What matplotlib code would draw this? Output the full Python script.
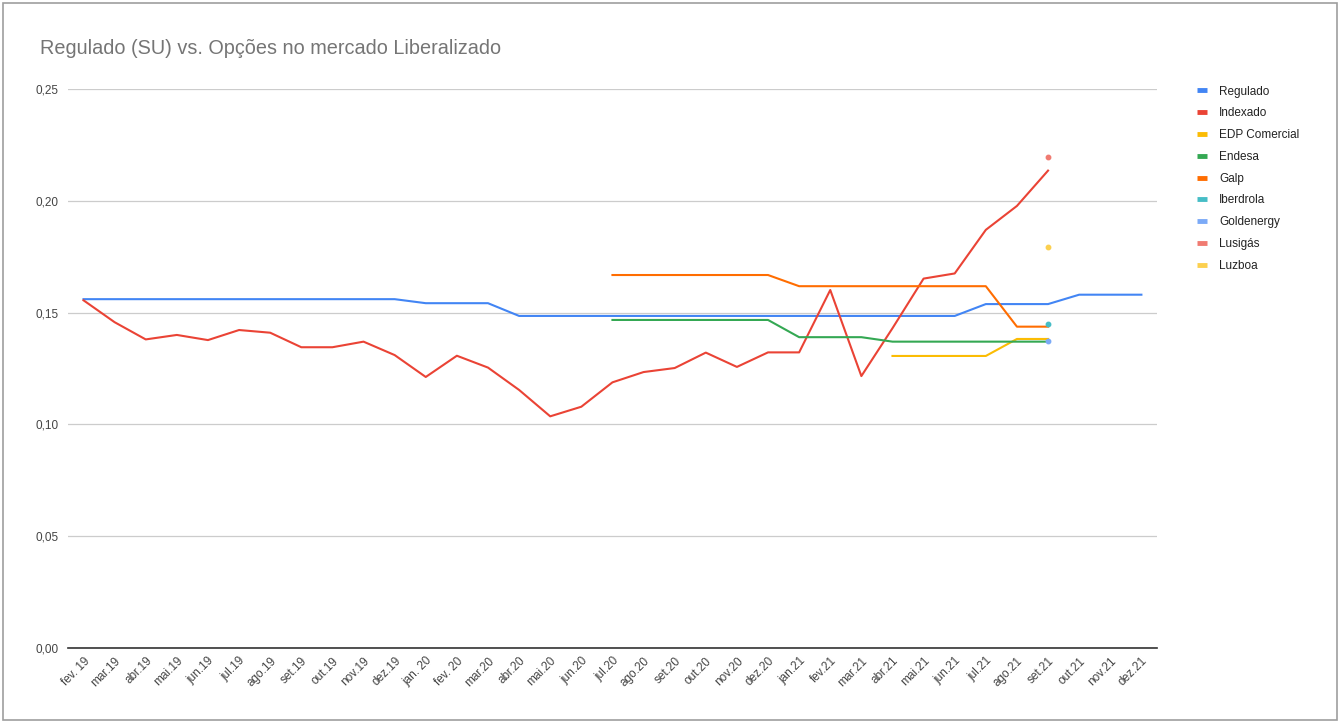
import numpy as np
import matplotlib.pyplot as plt
from matplotlib.lines import Line2D
from matplotlib.patches import Rectangle

plt.rcParams['font.family'] = ['Liberation Sans', 'DejaVu Sans']

months = ["fev. 19", "mar.19", "abr.19", "mai.19", "jun.19", "jul.19", "ago.19",
          "set.19", "out.19", "nov.19", "dez.19", "jan. 20", "fev. 20", "mar.20",
          "abr.20", "mai.20", "jun.20", "jul.20", "ago.20", "set.20", "out.20",
          "nov.20", "dez.20", "jan.21", "fev.21", "mar.21", "abr.21", "mai.21",
          "jun.21", "jul.21", "ago.21", "set.21", "out.21", "nov.21", "dez.21"]

nan = np.nan

regulado = [0.156] * 11 + [0.1542] * 3 + [0.1485] * 15 + [0.1538] * 3 + [0.158] * 3

indexado = [0.1555, 0.1457, 0.138, 0.140, 0.1377, 0.1422, 0.141, 0.1345, 0.1345,
            0.137, 0.131, 0.1212, 0.1307, 0.1254, 0.1154, 0.1036, 0.1079, 0.1188,
            0.1234, 0.1252, 0.1321, 0.1257, 0.1322, 0.1322, 0.1601, 0.1216, 0.143,
            0.1652, 0.1675, 0.187, 0.1977, 0.2135, nan, nan, nan]

edp_comercial = [nan] * 26 + [0.1306] * 4 + [0.1382] * 2 + [nan] * 3
endesa = [nan] * 17 + [0.1467] * 6 + [0.139] * 3 + [0.137] * 6 + [nan] * 3
galp = [nan] * 17 + [0.1668] * 6 + [0.1618] * 7 + [0.1437] * 2 + [nan] * 3
iberdrola = [nan] * 31 + [0.1449] + [nan] * 3
goldenergy = [nan] * 31 + [0.1374] + [nan] * 3
lusigas = [nan] * 31 + [0.2197] + [nan] * 3
luzboa = [nan] * 31 + [0.1795] + [nan] * 3

series = [
    ("Regulado", regulado, "#4285f4"),
    ("Indexado", indexado, "#ea4335"),
    ("EDP Comercial", edp_comercial, "#fbbc04"),
    ("Endesa", endesa, "#34a853"),
    ("Galp", galp, "#ff6d01"),
    ("Iberdrola", iberdrola, "#46bdc6"),
    ("Goldenergy", goldenergy, "#7baaf7"),
    ("Lusigás", lusigas, "#f07b72"),
    ("Luzboa", luzboa, "#fcd04f"),
]

fig = plt.figure(figsize=(13.4, 7.27), dpi=100)
ax = fig.add_axes([0.0507, 0.1087, 0.8127, 0.7689])

# chart frame
fig.patches.append(Rectangle((0.0025, 0.009), 0.995, 0.987, transform=fig.transFigure,
                             fill=False, edgecolor="#9e9e9e", linewidth=1.2))

x = np.arange(len(months))
handles = []
for name, vals, col in series:
    vals = np.array(vals, dtype=float)
    if np.count_nonzero(~np.isnan(vals)) == 1:
        ax.plot(x, vals, 'o', color=col, markersize=3.2, zorder=4)
    else:
        ax.plot(x, vals, color=col, linewidth=1.5, zorder=3)
    handles.append(Line2D([], [], color=col, linewidth=3.5, solid_capstyle='butt'))

ax.set_xlim(-0.5, len(months) - 0.5)
ax.set_ylim(0, 0.25)
ax.set_yticks([0, 0.05, 0.10, 0.15, 0.20, 0.25])
ax.set_yticklabels(["0,00", "0,05", "0,10", "0,15", "0,20", "0,25"])
ax.set_xticks(x)
ax.set_xticklabels(months, rotation=45, ha='right', va='top', rotation_mode='anchor')
ax.tick_params(axis='both', length=0, labelsize=8.5, labelcolor='#444444')
ax.tick_params(axis='y', pad=7)
ax.tick_params(axis='x', pad=5)
ax.grid(axis='y', color='#cccccc', linewidth=0.9)
ax.set_axisbelow(True)
for s in ['top', 'right', 'left']:
    ax.spines[s].set_visible(False)
ax.spines['bottom'].set_color('#333333')
ax.spines['bottom'].set_linewidth(1.2)
ax.spines['bottom'].set_zorder(5)

fig.text(0.03, 0.933, "Regulado (SU) vs. Opções no mercado Liberalizado",
         fontsize=14.3, color='#757575', ha='left', va='center')

fig.legend(handles, [s[0] for s in series], loc='upper left',
           bbox_to_anchor=(0.885, 0.897), frameon=False, fontsize=8.5,
           handlelength=0.9, handletextpad=1.0, labelspacing=0.83,
           labelcolor='#222222')

fig.savefig("out.png", dpi=100, facecolor='white')
